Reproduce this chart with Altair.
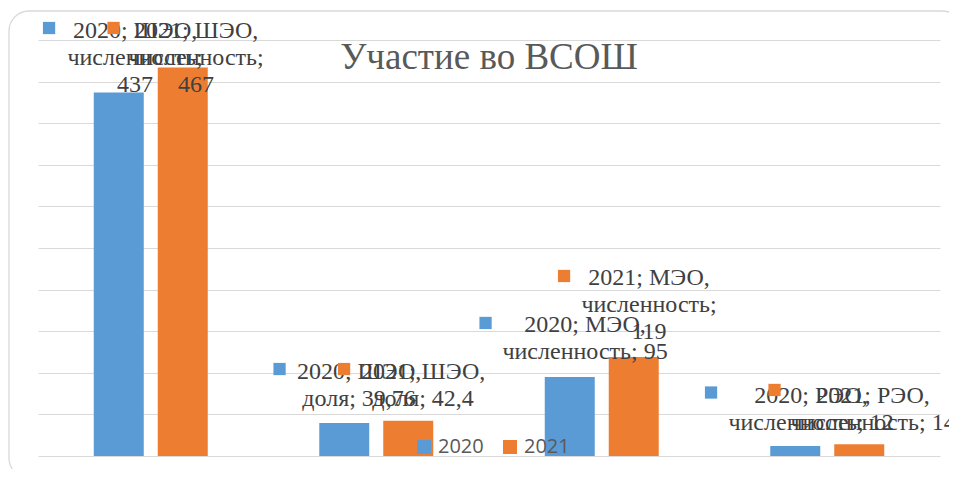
import altair as alt
import pandas as pd

# ---- data ----
TITLE = "Участие во ВСОШ"
categories = ["ШЭО, численность", "ШЭО, доля", "МЭО, численность", "РЭО, численность"]
levels = ["ШЭО", "ШЭО", "МЭО", "РЭО"]
metrics = ["численность", "доля", "численность", "численность"]
series = ["2020", "2021"]
values_2020 = [437, 39.76, 95, 12]
values_2021 = [467, 42.4, 119, 14]
colors = ["#5B9BD5", "#ED7D31"]


def fmt(v):
    return f"{v:g}".replace(".", ",")


rows = []
for s, vals in zip(series, [values_2020, values_2021]):
    for c, lv, m, v in zip(categories, levels, metrics, vals):
        rows.append({"cat": c, "series": s, "level": lv, "metric": m, "value": v})
df = pd.DataFrame(rows)

# ---- label layout (pixel offsets from group centre / bar top) ----
layout = {
    ("2020", 0): dict(wrap=True, dx=-15.7, dy=-54.4, mdx=-101.7, mdy=-64.4),
    ("2021", 0): dict(wrap=True, dx=45.3, dy=-29.5, mdx=-37.2, mdy=-39.5),
    ("2020", 1): dict(wrap=False, dx=-17.2, dy=-43.9, mdx=-96.7, mdy=-53.9),
    ("2021", 1): dict(wrap=False, dx=46.8, dy=-41.7, mdx=-32.2, mdy=-51.7),
    ("2020", 2): dict(wrap=False, dx=-16.7, dy=-45.0, mdx=-116.2, mdy=-54.0),
    ("2021", 2): dict(wrap=True, dx=47.3, dy=-72.0, mdx=-37.7, mdy=-81.0),
    ("2020", 3): dict(wrap=False, dx=-16.2, dy=-43.0, mdx=-116.2, mdy=-53.5),
    ("2021", 3): dict(wrap=False, dx=45.8, dy=-41.4, mdx=-52.7, mdy=-54.4),
}

x_scale = alt.Scale(domain=categories, paddingInner=0.4945, paddingOuter=0.2473)
y_scale = alt.Scale(domain=[0, 500], nice=False)

base = alt.Chart(df)

bars = base.mark_bar().encode(
    x=alt.X("cat:N", sort=categories, scale=x_scale, axis=None),
    xOffset=alt.XOffset("series:N", scale=alt.Scale(paddingInner=0.21875, paddingOuter=0)),
    y=alt.Y(
        "value:Q",
        scale=y_scale,
        axis=alt.Axis(
            values=list(range(0, 501, 50)),
            grid=True,
            labels=False,
            ticks=False,
            domain=False,
            title=None,
            gridColor="#d9d9d9",
            gridWidth=1.2,
        ),
    ),
    color=alt.Color(
        "series:N",
        scale=alt.Scale(domain=series, range=colors),
        legend=alt.Legend(
            orient="none",
            legendX=376,
            legendY=397,
            direction="horizontal",
            title=None,
            symbolType="square",
            symbolSize=196,
            symbolStrokeWidth=0,
            labelFont="Open Sans",
            labelFontSize=20,
            labelColor="#595959",
            labelOffset=4,
            columnPadding=16,
            padding=0,
        ),
    ),
)

layers = []
border = alt.Chart(pd.DataFrame({"k": [0]})).mark_rect(
    fillOpacity=0, stroke="#d9d9d9", strokeWidth=1.3, cornerRadius=20
).encode(x=alt.value(-29), x2=alt.value(924), y=alt.value(-29), y2=alt.value(438))
layers.append(border)
layers.append(bars)

for ci in range(len(categories)):
    for si, s in enumerate(series):
        lay = layout[(s, ci)]
        sub = df[(df["series"] == s) & (df["cat"] == categories[ci])].copy()
        row = sub.iloc[0]
        if lay["wrap"]:
            txt = f"{s}; {row['level']},\n{row['metric']};\n{fmt(row['value'])}"
        else:
            txt = f"{s}; {row['level']},\n{row['metric']}; {fmt(row['value'])}"
        sub["label"] = txt
        marker = alt.Chart(sub).mark_square(
            size=150, color=colors[si], opacity=1,
            xOffset=lay["mdx"], yOffset=lay["mdy"],
        ).encode(
            x=alt.X("cat:N", sort=categories),
            y=alt.Y("value:Q"),
        )
        text = alt.Chart(sub).mark_text(
            font="Liberation Serif", fontSize=24, color="#404040",
            align="center", baseline="alphabetic", lineBreak="\n", lineHeight=27,
            dx=lay["dx"], dy=lay["dy"],
        ).encode(
            x=alt.X("cat:N", sort=categories),
            y=alt.Y("value:Q"),
            text="label:N",
        )
        layers.append(marker)
        layers.append(text)

title = alt.Chart(pd.DataFrame({"t": [TITLE]})).mark_text(
    font="Liberation Serif", fontSize=37, color="#595959",
    align="center", baseline="alphabetic",
).encode(x=alt.value(451), y=alt.value(29), text="t:N")
layers.append(title)

chart = alt.layer(*layers).properties(
    width=902,
    height=416,
    padding={"left": 30, "top": 32, "right": 9, "bottom": 13},
    autosize=alt.AutoSizeParams(type="none"),
).configure_view(stroke=None)

chart.save("out.html", embed_options={"renderer": "svg", "actions": False})
